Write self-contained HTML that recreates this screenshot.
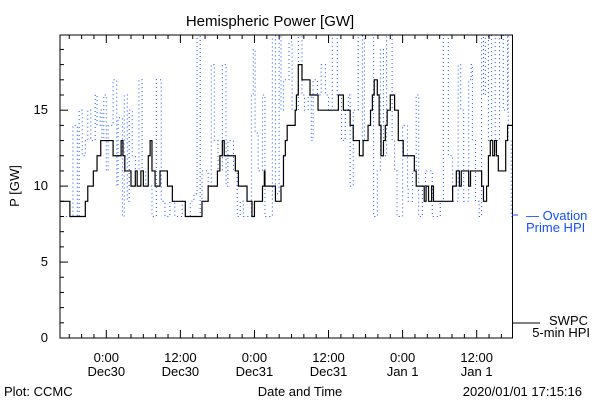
<!DOCTYPE html>
<html><head><meta charset="utf-8"><style>
body{margin:0;background:#fff;}
svg{display:block;font-family:"Liberation Sans","DejaVu Sans",sans-serif;}
</style></head><body>
<svg id="chart" width="600" height="400" xmlns="http://www.w3.org/2000/svg">
<rect width="600" height="400" fill="#fff"/>
<text x="270" y="26" font-size="15" text-anchor="middle">Hemispheric Power [GW]</text>
<text transform="translate(19,186) rotate(-90)" font-size="13" text-anchor="middle">P [GW]</text>
<text x="300" y="396" font-size="13" text-anchor="middle">Date and Time</text>
<text x="4" y="396" font-size="13">Plot: CCMC</text>
<text x="582" y="396" font-size="13" text-anchor="end">2020/01/01 17:15:16</text>
<g id="series"></g>
<g id="axes"></g>
<line x1="512" y1="215" x2="518" y2="215" stroke="#1450ff"/>
<text x="526" y="220" font-size="13" fill="#1450ff">— Ovation</text>
<text x="526" y="232" font-size="13" fill="#1450ff">Prime HPI</text>
<line x1="513" y1="323" x2="540" y2="323" stroke="#000"/>
<text x="588" y="325" font-size="13" text-anchor="end">SWPC</text>
<text x="590" y="337" font-size="13" text-anchor="end">5-min HPI</text>
</svg>
<script>
// hours since plot start (Dec29 16:30)
const swpcTimes=[0,1.6,4.1,4.5,5.4,6,6.6,8.6,9.9,10.2,10.5,11.5,12.2,12.5,13.1,13.5,14.3,14.6,14.9,15.4,16.2,17.4,18.2,20.3,23,24,25.5,25.9,26.3,26.6,28.4,28.9,30.3,31.1,31.5,32.8,33.1,33.2,34.9,35.8,36.2,36.5,36.8,38.1,38.3,38.6,39.2,40.5,41.8,45.1,45.9,47,47.5,48.5,49.1,49.9,50.3,50.6,50.9,51.4,51.7,52,52.4,52.7,53,53.5,54.2,54.8,55.6,57.4,57.7,59,59.3,59.7,60.2,60.5,63.6,64.2,64.7,65,66.2,66.5,68.3,68.6,69.1,69.4,69.7,70.1,70.4,70.7,71,72.2,72.5];
const swpcValues=[9,8,9,10,11,12,13,12,13,12,11,10,11,10,11,10,12,13,11,10,11,10,9,8,9,10,11,12,13,12,11,10,9,8,9,10,11,10,9,10,12,13,14,15,16,18,17,16,15,16,15,14,13,12,13,14,15,16,17,16,14,12,13,14,15,16,15,13,12,11,10,9,10,9,10,9,10,11,10,11,10,11,10,9,10,12,13,12,13,12,11,13,14];
const ovationTimes=[0.3,1.6,2.1,2.8,3.1,3.6,4.1,4.5,5.0,5.7,6.0,6.5,6.8,7.1,7.5,7.8,8.6,9.2,9.4,10.1,10.4,10.9,11.2,11.7,12.2,12.8,13.3,13.9,14.9,15.6,16.4,17.0,17.8,18.6,19.8,20.3,21.1,21.7,22.2,22.7,23.0,24.0,24.5,25.0,25.6,26.3,26.9,27.2,28.1,28.7,29.2,29.7,30.5,31.0,31.3,31.6,32.1,32.8,33.2,34.1,34.4,34.9,35.5,35.8,36.2,37.0,37.1,37.6,38.6,39.2,39.6,40.2,40.7,41.0,41.7,42.3,43.0,43.5,44.1,44.6,44.9,45.6,46.2,46.7,47.0,47.5,48.3,49.0,49.3,50.3,50.8,51.4,51.9,52.4,52.9,53.2,53.8,54.2,54.6,55.5,56.3,56.4,57.1,57.7,58.1,58.7,59.2,60.3,61.1,61.6,62.1,62.8,62.9,63.6,64.5,64.9,65.4,66.2,66.6,66.8,67.3,67.9,68.3,68.6,68.9,69.4,69.9,70.5,71.2,71.7,71.8,72.5,72.6,73.1];
const ovationValues=[8,8,14,8,15,12,13,15,13,16,14,15,13,16,11,14,17,10,14.5,8,16,9,15,12,11,17,11,10,8,17,9,8,9,8,9,8,9,9.5,20,8,11,10,18,13,11,18,10,13,11,8,9,8,8,16,19,13.5,11,16,8,8,20,9.5,20,15,17,17,19.5,15,20,16,15,16,13,17,16,18,16,15,20,20,16,13,15,16,10,15,20,13,20,20,8,11,19,12,20,20,13,11,8,14,10,9,11,16,8,10,11,8,8,9,20,20,12,9,18,15,9,17,18,13,9,8,20,16,20,13,20,13,20,20,15,20,13,8];
const yTickLabels=["0","5","10","15"];
const xTickLabels=[["0:00","Dec30"],["12:00","Dec30"],["0:00","Dec31"],["12:00","Dec31"],["0:00","Jan 1"],["12:00","Jan 1"]];
const L=60,R=512.5,T=35,B=338,HMAX=73.3,VMAX=19.95;
const firstTickHour=7.5;
const x=h=>L+(R-L)*h/HMAX;
const y=v=>B-(B-T)*Math.min(v,VMAX)/VMAX;
const NS="http://www.w3.org/2000/svg";
const sg=document.getElementById('series'),ag=document.getElementById('axes');
function stepPath(ts,vs,end){let d="M"+x(ts[0])+","+y(vs[0]);for(let i=1;i<ts.length;i++){d+="H"+x(ts[i])+"V"+y(vs[i]);}d+="H"+x(end);return d;}
const po=document.createElementNS(NS,'path');
po.setAttribute('d',stepPath(ovationTimes,ovationValues,HMAX));
po.setAttribute('fill','none');po.setAttribute('stroke','#1450ff');po.setAttribute('stroke-width','1');po.setAttribute('stroke-dasharray','1,3');


sg.appendChild(po);
const ps=document.createElementNS(NS,'path');
ps.setAttribute('d',stepPath(swpcTimes,swpcValues,HMAX));
ps.setAttribute('fill','none');ps.setAttribute('stroke','#000');ps.setAttribute('stroke-width','1.2');


sg.appendChild(ps);
function ln(x1,y1,x2,y2,name){const l=document.createElementNS(NS,'line');l.setAttribute('x1',x1);l.setAttribute('y1',y1);l.setAttribute('x2',x2);l.setAttribute('y2',y2);l.setAttribute('stroke','#000');l.setAttribute('stroke-width','1');


ag.appendChild(l);}
function tx(s,xx,yy,anchor,name){const t=document.createElementNS(NS,'text');t.setAttribute('x',xx);t.setAttribute('y',yy);t.setAttribute('font-size','13');t.setAttribute('text-anchor',anchor);t.textContent=s;


ag.appendChild(t);}
const fr=document.createElementNS(NS,'rect');
fr.setAttribute('x',L);fr.setAttribute('y',T);fr.setAttribute('width',R-L);fr.setAttribute('height',B-T);fr.setAttribute('fill','none');fr.setAttribute('stroke','#000');


ag.appendChild(fr);
for(let v=0;v<=19;v++){const len=v%5===0?8:4;ln(L,y(v),L+len,y(v),'y-tick');}
yTickLabels.forEach((s,i)=>tx(s,L-12,y(i*5)+4,'end','y-tick-label'));
for(let h=firstTickHour%2;h<=HMAX;h+=2){const major=Math.abs(((h-firstTickHour)%12+12)%12)<0.01;const len=major?8:4;ln(x(h),B,x(h),B-len,'x-tick');ln(x(h),T,x(h),T+len,'x-tick-top');}
xTickLabels.forEach((p,i)=>{const xx=x(firstTickHour+12*i);tx(p[0],xx,362,'middle','x-tick-label');tx(p[1],xx,376,'middle','x-tick-date');});
</script>
</body></html>
